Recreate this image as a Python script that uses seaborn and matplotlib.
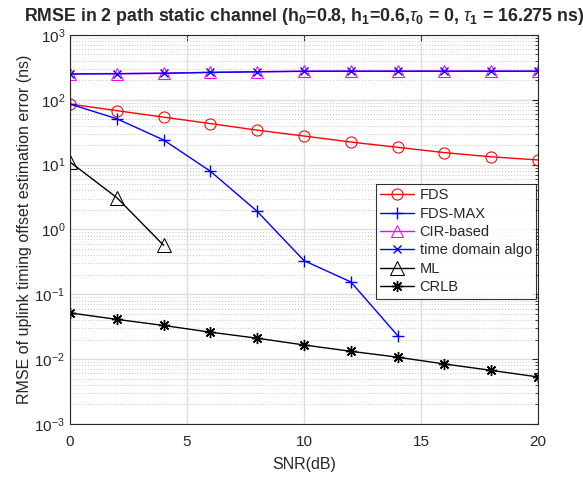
import numpy as np
import pandas as pd
import matplotlib
matplotlib.use("Agg")
import matplotlib.pyplot as plt
import seaborn as sns
from matplotlib.ticker import LogLocator, NullFormatter, FixedLocator

snr = [0, 2, 4, 6, 8, 10, 12, 14, 16, 18, 20]
fds = [86, 68, 54, 43, 34, 27.6, 22.3, 18.5, 15.3, 13.2, 11.8]
fds_max = [86, 51, 24, 7.9, 1.9, 0.33, 0.155, 0.023]
cir = [252, 254, 258, 266, 272, 276, 277, 277, 277, 277, 277]
tda = [250, 252, 256, 264, 270, 275, 276, 276, 276, 276, 276]
ml = [11.0, 3.1, 0.57]
crlb = [0.0516, 0.041, 0.033, 0.026, 0.021, 0.0165, 0.0132, 0.0107, 0.0084, 0.0067, 0.0053]

sns.set_style("white")
plt.rcParams['font.family'] = ['Liberation Sans', 'DejaVu Sans']
plt.rcParams['mathtext.fontset'] = 'custom'
plt.rcParams['mathtext.rm'] = 'Liberation Sans'
plt.rcParams['mathtext.it'] = 'Liberation Sans:italic'
plt.rcParams['mathtext.bf'] = 'Liberation Sans:bold'

fig = plt.figure(figsize=(5.83, 4.79), dpi=100)
ax = fig.add_axes([0.12, 0.115, 0.803, 0.812])

series = [
    ("FDS", snr, fds, dict(color="#ff0000", marker="o", markersize=8, mfc="none", mec="#ff0000")),
    ("FDS-MAX", snr[:len(fds_max)], fds_max, dict(color="#0000ff", marker="+", markersize=9, mec="#0000ff", mew=1)),
    ("CIR-based", snr, cir, dict(color="#ff00ff", marker="^", markersize=8, mfc="none", mec="#ff00ff")),
    ("time domain algo", snr, tda, dict(color="#0000ff", marker="x", markersize=6, mec="#0000ff", mew=1)),
    ("ML", snr[:len(ml)], ml, dict(color="black", marker="^", markersize=10, mfc="none", mec="black")),
    ("CRLB", snr, crlb, dict(color="black", marker=(8, 2, 0), markersize=8, mec="black", mew=1)),
]
for name, x, y, kw in series:
    sns.lineplot(x=x, y=y, ax=ax, label=name, linewidth=1, **kw)

ax.set_yscale("log")
ax.set_xlim(0, 20)
ax.set_ylim(1e-3, 1e3)
ax.set_xticks([0, 5, 10, 15, 20])
ax.yaxis.set_major_locator(LogLocator(base=10, numticks=10))
ax.yaxis.set_minor_locator(LogLocator(base=10, subs=np.arange(2, 10), numticks=100))
ax.yaxis.set_minor_formatter(NullFormatter())

ax.grid(True, which="major", color="#dddddd", linewidth=1, linestyle="-")
ax.grid(True, which="minor", axis="y", color="#c4c4c4", linewidth=0.7, linestyle=(0, (1, 2)))
ax.set_axisbelow(True)

for s in ax.spines.values():
    s.set_color("#262626")
    s.set_linewidth(0.8)
ax.tick_params(which="both", direction="in", top=True, right=True, colors="#262626",
               labelcolor="#262626", labelsize=11)
ax.tick_params(which="major", length=4)
ax.tick_params(which="minor", length=2)
ax.tick_params(axis="x", pad=8)

ax.set_xlabel("SNR(dB)", fontsize=11.5, color="#262626", labelpad=6)
ax.set_ylabel("RMSE of uplink timing offset estimation error (ns)", fontsize=11.5, color="#262626", labelpad=2)
ax.set_title(r"RMSE in 2 path static channel (h$_\mathbf{0}$=0.8, h$_\mathbf{1}$=0.6,$\tau_\mathbf{0}$ = 0, $\tau_\mathbf{1}$ = 16.275 ns)",
             fontsize=12.8, fontweight="bold", pad=10)

leg = ax.legend(loc="upper right", bbox_to_anchor=(0.996, 0.617), fontsize=10.5,
                frameon=True, fancybox=False, edgecolor="black", borderpad=0.3,
                labelspacing=0.3, handlelength=2.3, handletextpad=0.4, borderaxespad=0)
leg.get_frame().set_linewidth(0.8)

fig.savefig("out.png", dpi=100)
